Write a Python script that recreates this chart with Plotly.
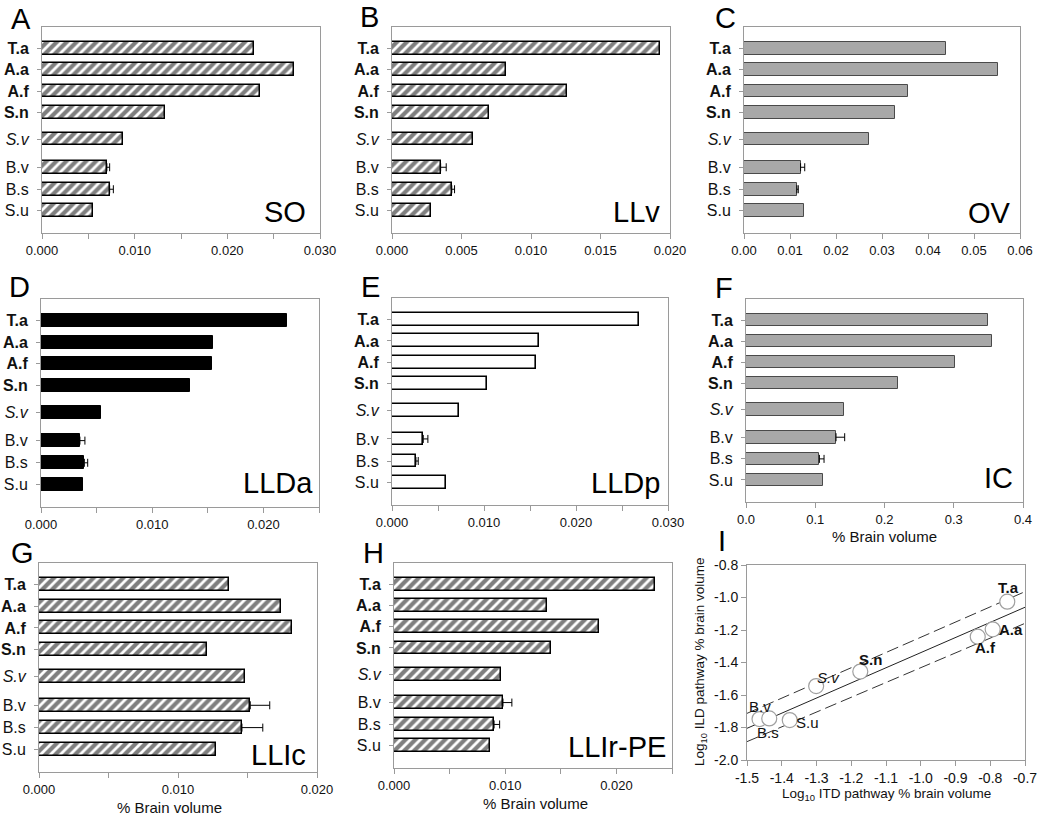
import plotly.graph_objects as go

W, H = 1040, 820
FONT = "Liberation Sans, Arial, sans-serif"

# ---------------- data ----------------
species = ["T.a", "A.a", "A.f", "S.n", "S.v", "B.v", "B.s", "S.u"]
species_tick = ["<b>T.a</b>", "<b>A.a</b>", "<b>A.f</b>", "<b>S.n</b>", "<i>S.v</i>", "B.v", "B.s", "S.u"]

so_vals = [0.0229, 0.0272, 0.0235, 0.0133, 0.0087, 0.0070, 0.0073, 0.0055]
so_err = [None, None, None, None, None, 0.0003, 0.0004, None]
llv_vals = [0.0193, 0.0082, 0.0126, 0.0070, 0.0058, 0.0035, 0.0043, 0.0028]
llv_err = [None, None, None, None, None, 0.0004, 0.0002, None]
ov_vals = [0.0439, 0.0553, 0.0357, 0.0328, 0.0272, 0.0123, 0.0115, 0.0130]
ov_err = [None, None, None, None, None, 0.0009, 0.0003, None]
llda_vals = [0.0221, 0.0155, 0.0154, 0.0134, 0.0054, 0.0035, 0.0039, 0.0038]
llda_err = [None, None, None, None, None, 0.00045, 0.0003, None]
lldp_vals = [0.0269, 0.0160, 0.0156, 0.0103, 0.0073, 0.0034, 0.0026, 0.0059]
lldp_err = [None, None, None, None, None, 0.0005, 0.00025, None]
ic_vals = [0.350, 0.355, 0.302, 0.220, 0.142, 0.130, 0.106, 0.111]
ic_err = [None, None, None, None, None, 0.0125, 0.0067, None]
llic_vals = [0.0137, 0.0174, 0.0182, 0.0121, 0.0148, 0.0152, 0.0146, 0.0127]
llic_err = [None, None, None, None, None, 0.0014, 0.0015, None]
llir_vals = [0.0235, 0.0138, 0.0184, 0.0141, 0.0096, 0.0098, 0.0090, 0.0086]
llir_err = [None, None, None, None, None, 0.0008, 0.0005, None]

# panel I: log10 ITD vs log10 ILD pathway volume
itd_log = [-0.751, -0.793, -0.836, -1.174, -1.301, -1.464, -1.436, -1.377]
ild_log = [-1.026, -1.196, -1.241, -1.456, -1.545, -1.748, -1.744, -1.754]
fit_x = [-1.5, -0.7]
fit_y = [-1.805, -1.060]
band_upper_y = [-1.713, -0.964]
band_lower_y = [-1.887, -1.159]
i_xticks = [-1.5, -1.4, -1.3, -1.2, -1.1, -1.0, -0.9, -0.8, -0.7]
i_xticktext = ["-1.5", "-1.4", "-1.3", "-1.2", "-1.1", "-1.0", "-0.9", "-0.8", "-0.7"]
i_yticks = [-2.0, -1.8, -1.6, -1.4, -1.2, -1.0, -0.8]
i_yticktext = ["-2.0", "-1.8", "-1.6", "-1.4", "-1.2", "-1.0", "-0.8"]

# ---------------- layout helpers ----------------
ROW_POS = [0, 1, 2, 3, 4.25, 5.57, 6.6, 7.6]


def px(x):
    return x / W


def py(y):
    return 1 - y / H


GRID = "#9a9a9a"

panels = [
    dict(letter="A", name="SO", vals=so_vals, err=so_err, style="hatch", rng=[0, 0.030], dtick=0.010, minor=0.005, fmt=".3f",
         box=(42, 320, 27, 233), letter_pos=(21, 19), name_pos=(308, 212)),
    dict(letter="B", name="LLv", vals=llv_vals, err=llv_err, style="hatch", rng=[0, 0.020], dtick=0.005, minor=None, fmt=".3f",
         box=(392, 670, 27, 233), letter_pos=(369, 17), name_pos=(662, 212)),
    dict(letter="C", name="OV", vals=ov_vals, err=ov_err, style="grey", rng=[0, 0.06], dtick=0.01, minor=None, fmt=".2f",
         box=(744, 1020, 27, 233), letter_pos=(725, 18), name_pos=(1013, 213)),
    dict(letter="D", name="LLDa", vals=llda_vals, err=llda_err, style="black", rng=[0, 0.025], dtick=0.010, minor=0.005, fmt=".3f",
         box=(41, 319, 299, 507), letter_pos=(19, 287), name_pos=(315, 483)),
    dict(letter="E", name="LLDp", vals=lldp_vals, err=lldp_err, style="white", rng=[0, 0.030], dtick=0.010, minor=0.005, fmt=".3f",
         box=(392, 668, 298, 505), letter_pos=(370, 287), name_pos=(662, 483)),
    dict(letter="F", name="IC", vals=ic_vals, err=ic_err, style="grey", rng=[0, 0.4], dtick=0.1, minor=None, fmt=".1f",
         box=(746, 1023, 299, 502), letter_pos=(724, 288), name_pos=(1015, 478),
         xtitle=(884, 536)),
    dict(letter="G", name="LLIc", vals=llic_vals, err=llic_err, style="hatch", rng=[0, 0.020], dtick=0.010, minor=0.005, fmt=".3f",
         box=(39, 317, 563, 772), letter_pos=(22, 553), name_pos=(308, 755),
         xtitle=(169, 807)),
    dict(letter="H", name="LLIr-PE", vals=llir_vals, err=llir_err, style="hatch", rng=[0, 0.025], dtick=0.010, minor=0.005, fmt=".3f",
         box=(394, 672, 563, 768), letter_pos=(373, 553), name_pos=(668, 747),
         xtitle=(535, 803)),
]

fig = go.Figure()
annotations = []
layout = {}

for i, p in enumerate(panels):
    k = "" if i == 0 else str(i + 1)
    xa, ya = "x" + k, "y" + k
    x0, x1, y0, y1 = p["box"]

    if p["style"] == "hatch":
        marker = dict(color="white", line=dict(color="black", width=1.5),
                      pattern=dict(shape="/", fgcolor="black", bgcolor="white", size=7, solidity=0.6))
    elif p["style"] == "grey":
        marker = dict(color="#a8a8a8", line=dict(color="#4a4a4a", width=1))
    elif p["style"] == "black":
        marker = dict(color="black", line=dict(color="black", width=1))
    else:
        marker = dict(color="white", line=dict(color="black", width=1.6))

    fig.add_trace(go.Bar(
        x=p["vals"], y=ROW_POS, orientation="h", width=0.6, marker=marker,
        xaxis=xa, yaxis=ya, showlegend=False, hoverinfo="skip"))

    # one-sided error bars only where the figure shows them
    ex = [v for v, e in zip(p["vals"], p["err"]) if e is not None]
    ey = [r for r, e in zip(ROW_POS, p["err"]) if e is not None]
    ee = [e for e in p["err"] if e is not None]
    fig.add_trace(go.Scatter(
        x=ex, y=ey, mode="markers", marker=dict(size=1, color="rgba(0,0,0,0)"),
        error_x=dict(type="data", array=ee, arrayminus=[0] * len(ee), symmetric=False,
                     color="black", thickness=1, width=4),
        xaxis=xa, yaxis=ya, showlegend=False, hoverinfo="skip"))

    xax = dict(domain=[px(x0), px(x1)], anchor=ya, range=p["rng"], dtick=p["dtick"], tick0=0,
               tickformat=p["fmt"], showgrid=False, zeroline=False, automargin=False,
               showline=True, linecolor=GRID, linewidth=1, mirror=True,
               ticks="outside", ticklen=5, tickcolor=GRID,
               tickfont=dict(family=FONT, size=13, color="#111"))
    if p["minor"]:
        xax["minor"] = dict(dtick=p["minor"], tick0=0, ticks="outside", ticklen=5, tickcolor=GRID)
    yax = dict(domain=[py(y1), py(y0)], anchor=xa, range=[8.65, -1.0], automargin=False,
               tickmode="array", tickvals=ROW_POS, ticktext=species_tick,
               showgrid=False, zeroline=False, showline=True, linecolor=GRID, linewidth=1, mirror=True,
               ticks="outside", ticklen=4, tickcolor=GRID, ticklabelstandoff=5,
               tickfont=dict(family=FONT, size=16, color="#111"))
    layout["xaxis" + k] = xax
    layout["yaxis" + k] = yax

    lx, ly = p["letter_pos"]
    annotations.append(dict(text=p["letter"], x=px(lx), y=py(ly), xref="paper", yref="paper",
                            xanchor="center", yanchor="middle", showarrow=False,
                            font=dict(family=FONT, size=29, color="black")))
    nx, ny = p["name_pos"]
    annotations.append(dict(text=p["name"], x=px(nx), y=py(ny), xref="paper", yref="paper",
                            xanchor="right", yanchor="middle", showarrow=False,
                            font=dict(family=FONT, size=29, color="black")))
    if "xtitle" in p:
        tx, ty = p["xtitle"]
        annotations.append(dict(text="% Brain volume", x=px(tx), y=py(ty), xref="paper", yref="paper",
                                xanchor="center", yanchor="middle", showarrow=False,
                                font=dict(family=FONT, size=15, color="#111")))

# ---------------- panel I ----------------
x0, x1, y0, y1 = 747, 1025, 565, 760
fig.add_trace(go.Scatter(x=fit_x, y=band_upper_y, mode="lines", line=dict(color="#333", width=1, dash="12px,5px"),
                         xaxis="x9", yaxis="y9", showlegend=False, hoverinfo="skip"))
fig.add_trace(go.Scatter(x=fit_x, y=band_lower_y, mode="lines", line=dict(color="#333", width=1, dash="12px,5px"),
                         xaxis="x9", yaxis="y9", showlegend=False, hoverinfo="skip"))
fig.add_trace(go.Scatter(x=fit_x, y=fit_y, mode="lines", line=dict(color="#222", width=1),
                         xaxis="x9", yaxis="y9", showlegend=False, hoverinfo="skip"))
fig.add_trace(go.Scatter(x=itd_log, y=ild_log, mode="markers",
                         marker=dict(size=15, color="white", line=dict(color="#a0a0a0", width=1.2)),
                         xaxis="x9", yaxis="y9", showlegend=False, hoverinfo="skip"))

layout["xaxis9"] = dict(domain=[px(x0), px(x1)], anchor="y9", range=[-1.5, -0.7], automargin=False,
                        tickmode="array", tickvals=i_xticks, ticktext=i_xticktext,
                        showgrid=False, zeroline=False, showline=True, linecolor=GRID,
                        linewidth=1, mirror=True, ticks="outside", ticklen=5, tickcolor=GRID,
                        tickfont=dict(family=FONT, size=14, color="#111"))
layout["yaxis9"] = dict(domain=[py(y1), py(y0)], anchor="x9", range=[-2.0, -0.8], automargin=False,
                        tickmode="array", tickvals=i_yticks, ticktext=i_yticktext,
                        showgrid=False, zeroline=False, showline=True, linecolor=GRID,
                        linewidth=1, mirror=True, ticks="outside", ticklen=5, tickcolor=GRID,
                        tickfont=dict(family=FONT, size=14, color="#111"))

label_text = ["<b>T.a</b>", "<b>A.a</b>", "<b>A.f</b>", "<b>S.n</b>", "<i>S.v</i>", "B.v", "B.s", "S.u"]
label_shift = [(1, 14), (18, 0), (8, -11), (10, 12), (12, 9), (0, 13), (-1, -14), (18, -2)]
for t, xv, yv, (sx, sy) in zip(label_text, itd_log, ild_log, label_shift):
    annotations.append(dict(text=t, x=xv, y=yv, xref="x9", yref="y9", xshift=sx, yshift=sy,
                            xanchor="center", yanchor="middle", showarrow=False,
                            font=dict(family=FONT, size=15, color="#111")))

annotations.append(dict(text="I", x=px(722), y=py(541), xref="paper", yref="paper",
                        xanchor="center", yanchor="middle", showarrow=False,
                        font=dict(family=FONT, size=29, color="black")))
annotations.append(dict(text="Log<sub>10</sub> ITD pathway % brain volume", x=px(886), y=py(794),
                        xref="paper", yref="paper", xanchor="center", yanchor="middle", showarrow=False,
                        font=dict(family=FONT, size=13.5, color="#111")))
annotations.append(dict(text="Log<sub>10</sub> ILD pathway % brain volume", x=px(700), y=py(662),
                        xref="paper", yref="paper", xanchor="center", yanchor="middle", showarrow=False,
                        textangle=-90, font=dict(family=FONT, size=13.5, color="#111")))

fig.update_layout(width=W, height=H, margin=dict(l=0, r=0, t=0, b=0),
                  paper_bgcolor="white", plot_bgcolor="white", bargap=0,
                  annotations=annotations, **layout)

fig.write_html("out.html")
